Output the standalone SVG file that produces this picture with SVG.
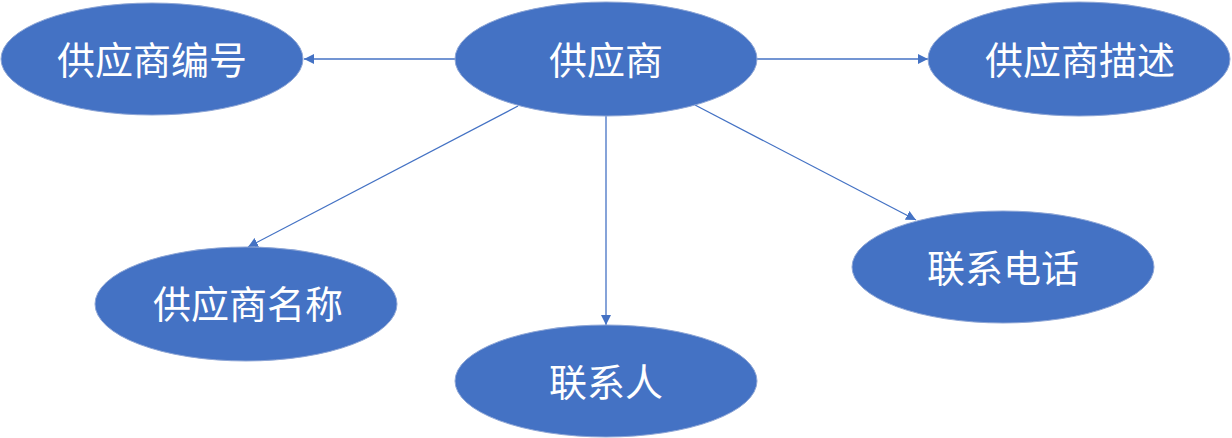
<svg xmlns="http://www.w3.org/2000/svg" width="1232" height="438" viewBox="0 0 1232 438">
<style>
.n{fill:#4472C4;stroke:#8EA6D6;stroke-width:1}
.t{fill:#fff;font-family:"Noto Sans CJK SC","Noto Sans",sans-serif;font-size:38px;text-anchor:middle;dominant-baseline:central}
.c{stroke:#4472C4;stroke-width:1.3;fill:none;marker-end:url(#a)}
</style>
<defs>
<marker id="a" viewBox="0 0 10 10" refX="10" refY="5" markerWidth="10" markerHeight="10" markerUnits="userSpaceOnUse" orient="auto">
<path d="M0,0L10,5L0,10z" fill="#4472C4"/>
</marker>
</defs>
<rect width="1232" height="438" fill="#fff"/>
<g id="connectors">
<line class="c" x1="455" y1="59" x2="304" y2="59"/>
<line class="c" x1="757" y1="59" x2="928" y2="59"/>
<line class="c" x1="518" y1="106" x2="248" y2="247"/>
<line class="c" x1="606" y1="116" x2="606" y2="325"/>
<line class="c" x1="695" y1="105" x2="916" y2="220"/>
</g>
<g id="supplier"><ellipse class="n" cx="606" cy="59" rx="151" ry="57"/><text class="t" x="606" y="57">供应商</text></g>
<g id="supplier-id"><ellipse class="n" cx="152" cy="59" rx="151" ry="56"/><text class="t" x="152" y="57">供应商编号</text></g>
<g id="supplier-desc"><ellipse class="n" cx="1079" cy="59" rx="151" ry="57"/><text class="t" x="1080" y="57">供应商描述</text></g>
<g id="phone"><ellipse class="n" cx="1003" cy="267" rx="151" ry="56"/><text class="t" x="1003" y="265">联系电话</text></g>
<g id="supplier-name"><ellipse class="n" cx="246" cy="304" rx="151" ry="57"/><text class="t" x="248" y="301">供应商名称</text></g>
<g id="contact"><ellipse class="n" cx="606" cy="381" rx="151" ry="56"/><text class="t" x="606" y="379">联系人</text></g>
</svg>
